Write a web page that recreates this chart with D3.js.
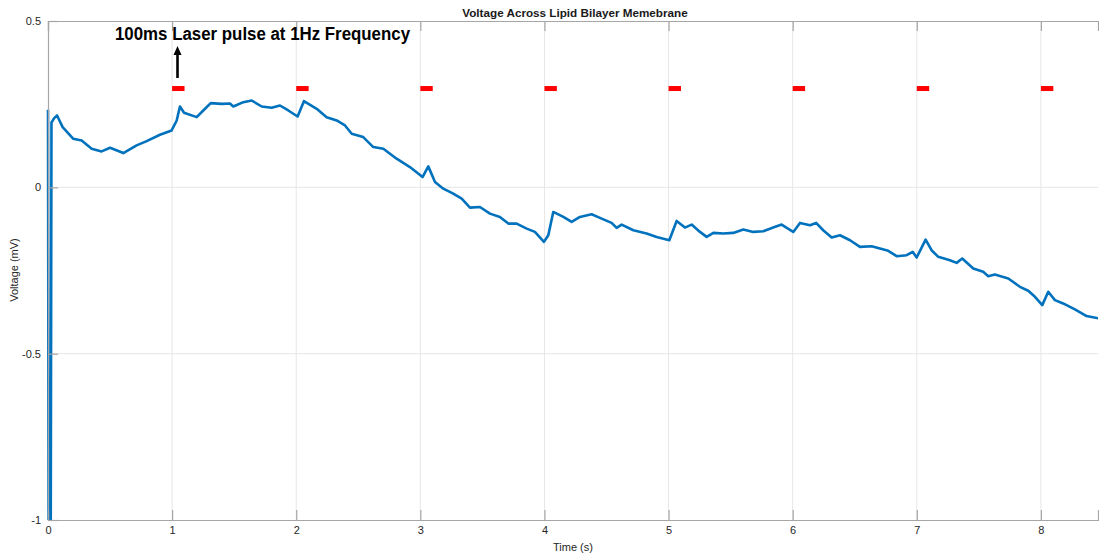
<!DOCTYPE html>
<html lang="en">
    <head>
        <meta charset="utf-8">
        <title>Voltage Across Lipid Bilayer Memebrane</title>
        <script src="https://d3js.org/d3.v7.min.js"></script>
        <style type="text/css">
            body { margin: 0; background: #fff; }
            text { font-family: "Liberation Sans", Arial, sans-serif; }
        </style>
    </head>
    <body>
        <script type="text/javascript">

            const svgW = 1099;
            const svgH = 554;
            const plotL = 48, plotR = 1098, plotT = 21, plotB = 520;

            // time (s)
            const time = [0, 0.005, 0.022, 0.028, 0.05, 0.073, 0.118, 0.204, 0.271, 0.352, 0.432, 0.5, 0.607, 0.714, 0.795, 0.902,
                0.996, 1.037, 1.063, 1.096, 1.198, 1.251, 1.311, 1.399, 1.466, 1.493, 1.574, 1.641, 1.722, 1.802, 1.869, 1.936,
                2.011, 2.062, 2.165, 2.245, 2.326, 2.393, 2.447, 2.54, 2.621, 2.702, 2.809, 2.916, 3.018, 3.064, 3.118,
                3.185, 3.265, 3.333, 3.4, 3.48, 3.561, 3.641, 3.709, 3.776, 3.857, 3.923, 3.996, 4.031, 4.071, 4.152,
                4.219, 4.286, 4.38, 4.461, 4.541, 4.582, 4.622, 4.716, 4.823, 4.904, 5.006, 5.065, 5.132, 5.186, 5.253,
                5.307, 5.361, 5.441, 5.521, 5.602, 5.682, 5.763, 5.843, 5.911, 5.991, 6.005, 6.059, 6.14, 6.189, 6.246,
                6.314, 6.381, 6.462, 6.542, 6.636, 6.703, 6.77, 6.838, 6.918, 6.967, 6.999, 7.071, 7.119, 7.173, 7.267,
                7.321, 7.366, 7.455, 7.535, 7.576, 7.629, 7.737, 7.831, 7.898, 7.952, 8.011, 8.059, 8.113, 8.179, 8.274,
                8.368, 8.465];
            // voltage (mV)
            const voltage = [0.233, -1.05, -1.05, 0.195, 0.208, 0.216, 0.181, 0.146, 0.141, 0.116, 0.108, 0.119, 0.103, 0.126, 0.139, 0.158,
                0.171, 0.201, 0.243, 0.224, 0.211, 0.231, 0.253, 0.251, 0.252, 0.243, 0.256, 0.261, 0.243, 0.239, 0.246, 0.231,
                0.213, 0.259, 0.236, 0.211, 0.201, 0.186, 0.161, 0.151, 0.121, 0.116, 0.086, 0.061, 0.031, 0.063, 0.016,
                -0.004, -0.019, -0.034, -0.061, -0.059, -0.079, -0.089, -0.109, -0.109, -0.124, -0.134, -0.164, -0.144, -0.074, -0.089,
                -0.104, -0.089, -0.081, -0.094, -0.107, -0.122, -0.112, -0.129, -0.139, -0.149, -0.159, -0.101, -0.121, -0.112, -0.134,
                -0.149, -0.137, -0.139, -0.137, -0.127, -0.134, -0.132, -0.121, -0.112, -0.131, -0.134, -0.107, -0.114, -0.107, -0.129,
                -0.151, -0.144, -0.159, -0.179, -0.177, -0.184, -0.191, -0.207, -0.204, -0.194, -0.211, -0.157, -0.189, -0.209, -0.219,
                -0.227, -0.214, -0.244, -0.254, -0.267, -0.262, -0.274, -0.299, -0.311, -0.329, -0.354, -0.314, -0.339, -0.349, -0.367,
                -0.387, -0.394];

            const pulseStarts = [1, 2, 3, 4, 5, 6, 7, 8];
            const pulseLength = 0.1;
            const pulseLevel = 0.297;

            const xTicks = [0, 1, 2, 3, 4, 5, 6, 7, 8];
            const yTicks = [0.5, 0, -0.5, -1];

            const xScale = d3.scaleLinear().domain([0, 8.46]).range([plotL, plotR]);
            const yScale = d3.scaleLinear().domain([-1, 0.5]).range([plotB, plotT]);

            const svg = d3.select("body").append("svg")
                .attr("width", svgW)
                .attr("height", svgH);

            // grid
            svg.append("g").selectAll("line").data(xTicks.slice(1)).enter().append("line")
                .attr("x1", d => xScale(d)).attr("x2", d => xScale(d))
                .attr("y1", plotT).attr("y2", plotB)
                .attr("stroke", "#e6e6e6").attr("stroke-width", 1);
            svg.append("g").selectAll("line").data(yTicks.slice(1, 3)).enter().append("line")
                .attr("x1", plotL).attr("x2", plotR)
                .attr("y1", d => yScale(d)).attr("y2", d => yScale(d))
                .attr("stroke", "#e6e6e6").attr("stroke-width", 1);

            // data line
            svg.append("clipPath").attr("id", "clip")
                .append("rect").attr("x", plotL - 2).attr("y", plotT).attr("width", plotR - plotL + 2).attr("height", plotB - plotT);

            const line = d3.line()
                .x((d, i) => xScale(time[i]))
                .y(d => yScale(d));

            svg.append("path")
                .datum(voltage)
                .attr("clip-path", "url(#clip)")
                .attr("d", line)
                .attr("fill", "none")
                .attr("stroke", "#0072BD")
                .attr("stroke-width", 2.6)
                .attr("stroke-linejoin", "round");

            // laser pulses
            svg.append("g").selectAll("rect").data(pulseStarts).enter().append("rect")
                .attr("x", d => xScale(d))
                .attr("width", d => xScale(d + pulseLength) - xScale(d))
                .attr("y", yScale(pulseLevel) - 2.5)
                .attr("height", 5)
                .attr("fill", "#ff0000");

            // axes (box with inward ticks)
            const bottomAxis = d3.axisBottom(xScale).tickValues(xTicks).tickSize(-10).tickPadding(6).tickFormat(d3.format("d"));
            const gx = svg.append("g").attr("transform", "translate(0," + plotB + ")").call(bottomAxis);
            const topAxis = d3.axisTop(xScale).tickValues(xTicks).tickSize(-10).tickFormat("");
            const gt = svg.append("g").attr("transform", "translate(0," + plotT + ")").call(topAxis);
            const leftAxis = d3.axisLeft(yScale).tickValues(yTicks).tickSize(-10).tickPadding(7)
                .tickFormat(d => String(d));
            const gy = svg.append("g").attr("transform", "translate(" + plotL + ",0)").call(leftAxis);

            [gx, gt, gy].forEach(g => {
                g.select(".domain").attr("stroke", "#a6a6a6").attr("stroke-width", 1.2);
                g.selectAll(".tick line").attr("stroke", "#a6a6a6").attr("stroke-width", 1.2);
                g.selectAll(".tick text").attr("fill", "#262626").attr("font-size", 11)
                    .attr("font-family", "Liberation Sans, Arial, sans-serif");
            });

            // title and labels
            svg.append("text").attr("x", 575).attr("y", 17).attr("text-anchor", "middle")
                .attr("font-size", 11.7).attr("font-weight", "bold").attr("fill", "#1a1a1a")
                .text("Voltage Across Lipid Bilayer Memebrane");
            svg.append("text").attr("x", 573).attr("y", 551).attr("text-anchor", "middle")
                .attr("font-size", 11).attr("fill", "#262626")
                .text("Time (s)");
            svg.append("text").attr("transform", "translate(18,270) rotate(-90)").attr("text-anchor", "middle")
                .attr("font-size", 11).attr("fill", "#262626")
                .text("Voltage (mV)");

            // annotation
            svg.append("text").attr("x", 115).attr("y", 40)
                .attr("font-family", "Lato, sans-serif").attr("font-size", 18).attr("font-weight", "bold")
                .attr("textLength", 295).attr("lengthAdjust", "spacingAndGlyphs")
                .attr("fill", "#000")
                .text("100ms Laser pulse at 1Hz Frequency");
            svg.append("line").attr("x1", 177.5).attr("x2", 177.5).attr("y1", 78).attr("y2", 54)
                .attr("stroke", "#000").attr("stroke-width", 2.6);
            svg.append("path").attr("d", "M173.5,55 L181.5,55 L177.5,46 Z").attr("fill", "#000");

        </script>
    </body>
</html>
